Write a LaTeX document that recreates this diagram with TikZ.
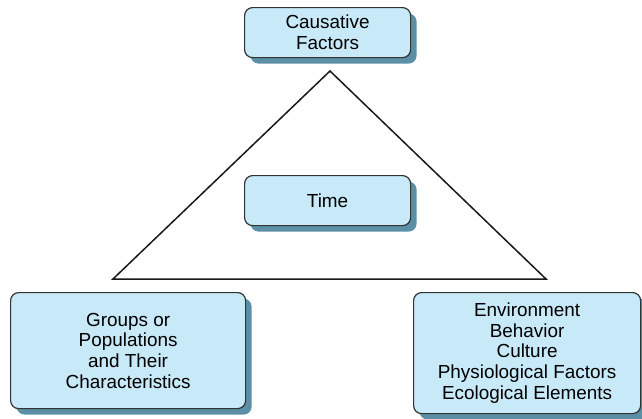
\documentclass[tikz,border=0pt]{standalone}
\usepackage{fontspec}
\setmainfont{Liberation Sans}
\definecolor{boxfill}{HTML}{C8E9F8}
\definecolor{boxline}{HTML}{333333}
\definecolor{shadowc}{HTML}{5B8FA6}
\begin{document}
\begin{tikzpicture}[x=1pt,y=-1pt,
  cbox/.style={draw=boxline, line width=1.2pt, fill=boxfill, rounded corners=8pt,
    rectangle, inner sep=0pt, align=center, anchor=north west,
    font=\fontsize{18.9}{20.8}\selectfont,
    preaction={fill=shadowc, draw=none, transform canvas={shift={(6pt,-6pt)}}}},
  tri/.style={draw=black!90, line width=1.5pt, line join=miter}]
\useasboundingbox (0,0) rectangle (642,418);
\draw[tri] (330,71) coordinate (apex) -- (113,279) coordinate (bl) -- (546,279) coordinate (br) -- cycle;
\node[cbox, minimum width=166pt, minimum height=50pt] (cause) at (244,7) {Causative\\Factors};
\node[cbox, minimum width=166pt, minimum height=50pt] (time) at (244,175) {Time};
\node[cbox, minimum width=235pt, minimum height=116pt, text depth=0pt] (groups) at (10,292) {Groups or\\Populations\\and Their\\Characteristics\rule[-6pt]{0pt}{6pt}};
\node[cbox, minimum width=227pt, minimum height=121pt] (env) at (413,292) {Environment\\Behavior\\Culture\\Physiological Factors\\Ecological Elements};
\end{tikzpicture}
\end{document}
